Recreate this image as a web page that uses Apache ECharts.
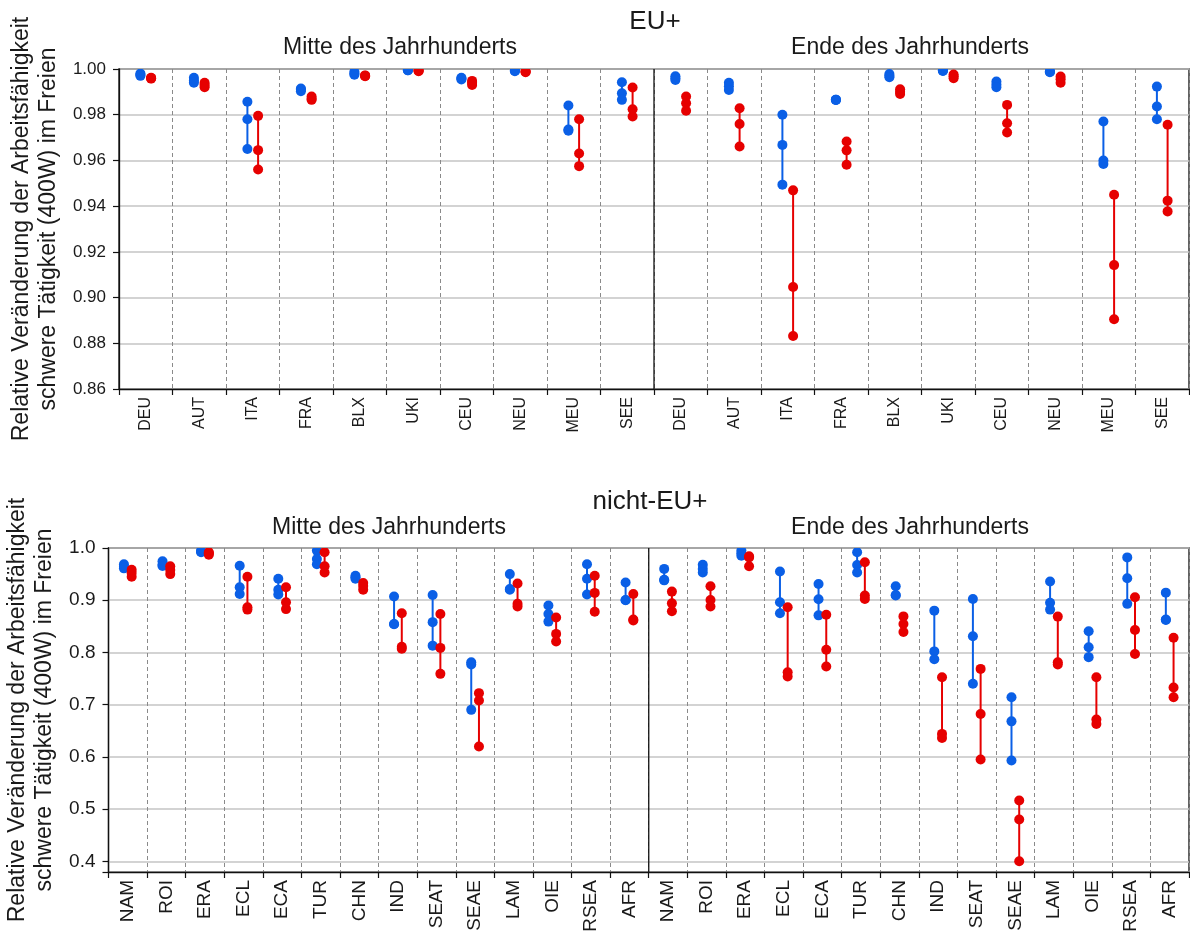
<!DOCTYPE html>
<html>
<head>
<meta charset="utf-8">
<title>Arbeitsfähigkeit – EU+ und nicht-EU+</title>
<script src="https://cdn.jsdelivr.net/npm/echarts@6/dist/echarts.min.js"></script>
<style>
  html, body { margin: 0; padding: 0; background: #fff; }
  #chart { width: 1190px; height: 936px; }
</style>
</head>
<body>
<div id="chart"></div>
<script>
// Regions of the two panels
const euRegions = ['DEU', 'AUT', 'ITA', 'FRA', 'BLX', 'UKI', 'CEU', 'NEU', 'MEU', 'SEE'];
const nonEuRegions = ['NAM', 'ROI', 'ERA', 'ECL', 'ECA', 'TUR', 'CHN', 'IND', 'SEAT', 'SEAE', 'LAM', 'OIE', 'RSEA', 'AFR'];

// EU+ – three model values per region, blue and red scenario
const euMidBlue = [
  [0.998, 0.9975, 0.997], [0.9962, 0.995, 0.994], [0.9857, 0.978, 0.965], [0.9915, 0.991, 0.9903],
  [0.9988, 0.998, 0.9975], [0.9997, 0.9995, 0.9994], [0.9962, 0.9958, 0.9954], [0.9994, 0.9992, 0.999],
  [0.984, 0.9735, 0.973], [0.9942, 0.9894, 0.9865]
];
const euMidRed = [
  [0.9962, 0.996, 0.9958], [0.994, 0.993, 0.992], [0.9795, 0.9645, 0.956], [0.988, 0.987, 0.9865],
  [0.9972, 0.997, 0.9968], [0.9994, 0.9992, 0.999], [0.9948, 0.994, 0.993], [0.999, 0.9988, 0.9986],
  [0.978, 0.963, 0.9575], [0.9919, 0.9824, 0.9792]
];
const euEndBlue = [
  [0.9968, 0.996, 0.9952], [0.994, 0.9925, 0.9908], [0.98, 0.9668, 0.9494], [0.9866, 0.9865, 0.9864],
  [0.9978, 0.997, 0.9964], [0.9995, 0.9993, 0.9991], [0.9945, 0.9932, 0.992], [0.999, 0.9988, 0.9986],
  [0.977, 0.96, 0.9584], [0.9923, 0.9836, 0.978]
];
const euEndRed = [
  [0.988, 0.985, 0.9817], [0.9828, 0.9759, 0.9661], [0.9469, 0.9046, 0.8832], [0.9683, 0.9644, 0.9581],
  [0.9911, 0.99, 0.9891], [0.9976, 0.9968, 0.996], [0.9843, 0.9763, 0.9722], [0.9967, 0.9955, 0.994],
  [0.945, 0.9142, 0.8905], [0.9756, 0.9424, 0.9377]
];

// nicht-EU+
const nonEuMidBlue = [
  [0.969, 0.964, 0.961], [0.9745, 0.968, 0.9656], [0.995, 0.993, 0.992], [0.966, 0.925, 0.912],
  [0.941, 0.92, 0.911], [0.995, 0.979, 0.969], [0.947, 0.944, 0.941], [0.907, 0.8546, 0.854],
  [0.91, 0.858, 0.813], [0.781, 0.777, 0.69], [0.95, 0.9216, 0.92], [0.89, 0.8737, 0.859],
  [0.969, 0.941, 0.911], [0.934, 0.9005, 0.9]
];
const nonEuMidRed = [
  [0.9585, 0.952, 0.945], [0.965, 0.958, 0.95], [0.992, 0.99, 0.987], [0.945, 0.8865, 0.882],
  [0.925, 0.896, 0.883], [0.992, 0.965, 0.953], [0.933, 0.927, 0.92], [0.875, 0.811, 0.807],
  [0.8737, 0.8087, 0.759], [0.722, 0.708, 0.62], [0.932, 0.893, 0.888], [0.867, 0.8355, 0.821],
  [0.947, 0.914, 0.878], [0.912, 0.863, 0.861]
];
const nonEuEndBlue = [
  [0.96, 0.939, 0.938], [0.968, 0.96, 0.953], [0.995, 0.99, 0.985], [0.955, 0.896, 0.875],
  [0.931, 0.902, 0.871], [0.992, 0.9675, 0.953], [0.9267, 0.91, 0.909], [0.88, 0.802, 0.787],
  [0.9024, 0.831, 0.74], [0.714, 0.668, 0.593], [0.936, 0.895, 0.882], [0.8406, 0.81, 0.791],
  [0.982, 0.942, 0.893], [0.9145, 0.863, 0.862]
];
const nonEuEndRed = [
  [0.9165, 0.894, 0.879], [0.9267, 0.9005, 0.888], [0.984, 0.982, 0.965], [0.8865, 0.762, 0.754],
  [0.872, 0.805, 0.773], [0.9726, 0.909, 0.9025], [0.869, 0.8546, 0.839], [0.7526, 0.644, 0.636],
  [0.7685, 0.682, 0.595], [0.5166, 0.48, 0.4], [0.8686, 0.781, 0.777], [0.7526, 0.6716, 0.663],
  [0.9056, 0.843, 0.797], [0.828, 0.733, 0.714]
];

// Axis ranges and tick labels
const euTicks = ['0.86', '0.88', '0.90', '0.92', '0.94', '0.96', '0.98', '1.00'];
const nonEuTicks = ['0.4', '0.5', '0.6', '0.7', '0.8', '0.9', '1.0'];
const euYMin = 0.86, euYMax = 1.0;
const nonEuYMin = 0.3795, nonEuYMax = 1.0;

// Headings
const periodLabels = ['Mitte des Jahrhunderts', 'Ende des Jahrhunderts'];
const panelTitles = ['EU+', 'nicht-EU+'];
const yTitle = 'Relative Veränderung der Arbeitsfähigkeit\nschwere Tätigkeit (400W) im Freien';

const BLUE = '#0a5fe6';
const RED = '#e60000';
const FONT = '"Liberation Sans", Arial, Helvetica, sans-serif';
const TXT = '#1a1a1a';

// One data row per category: [categoryIndex, v1, v2, v3]
function rows(mid, end) {
  return mid.concat(end).map((v, i) => [i, v[0], v[1], v[2]]);
}

// Vertical min–max line with the three model values as dots,
// shifted a tenth of the band left (blue) or right (red)
function rangeRenderer(shift) {
  return function (params, api) {
    const idx = api.value(0);
    const vals = [api.value(1), api.value(2), api.value(3)];
    const band = api.size([1, 0])[0];
    const x = api.coord([idx, vals[0]])[0] + band * shift;
    const ys = vals.map(v => api.coord([idx, v])[1]);
    const color = api.visual('color');
    const children = [{
      type: 'line',
      shape: { x1: x, y1: Math.min.apply(null, ys), x2: x, y2: Math.max.apply(null, ys) },
      style: { stroke: color, lineWidth: 2 }
    }];
    ys.forEach(y => children.push({
      type: 'circle',
      shape: { cx: x, cy: y, r: 5 },
      style: { fill: color }
    }));
    return { type: 'group', children: children };
  };
}

// Solid separator between the two periods (at the boundary before category n)
function separatorRenderer(params, api) {
  const idx = api.value(0);
  const band = api.size([1, 0])[0];
  const cs = params.coordSys;
  const x = api.coord([idx, 0])[0] - band / 2;
  return {
    type: 'line',
    shape: { x1: x, y1: cs.y, x2: x, y2: cs.y + cs.height },
    style: { stroke: '#111', lineWidth: 1.3 }
  };
}

function xAxisFor(gridIndex, regions, fontSize) {
  return {
    type: 'category',
    gridIndex: gridIndex,
    data: regions.concat(regions),
    boundaryGap: true,
    axisLine: { lineStyle: { color: '#111', width: 1.3 } },
    axisTick: { show: true, interval: 0, length: 6, lineStyle: { color: '#111', width: 1.2 } },
    axisLabel: { interval: 0, rotate: 90, margin: 8, fontSize: fontSize, color: TXT, fontFamily: FONT },
    splitLine: { show: true, interval: 0, lineStyle: { color: '#8a8a8a', type: [4, 3], width: 1 } }
  };
}

function yAxisFor(gridIndex, min, max, ticks, fontSize, nameGap) {
  return {
    type: 'value',
    gridIndex: gridIndex,
    min: min,
    max: max,
    splitNumber: ticks.length - 1,
    axisLine: { show: true, lineStyle: { color: '#111', width: 1.3 } },
    axisTick: { show: true, length: 6, lineStyle: { color: '#111', width: 1.2 } },
    axisLabel: {
      margin: 13, fontSize: fontSize, color: TXT, fontFamily: FONT,
      formatter: function (v) {
        const dec = ticks[0].split('.')[1].length;
        const s = v.toFixed(dec);
        return ticks.indexOf(s) >= 0 && Math.abs(parseFloat(s) - v) < 1e-6 ? s : '';
      }
    },
    splitLine: { show: true, lineStyle: { color: '#c4c4c4', width: 1.5 } },
    name: yTitle,
    nameLocation: 'middle',
    nameRotate: 90,
    nameGap: nameGap,
    nameTextStyle: { fontSize: 23, lineHeight: 27, color: TXT, fontFamily: FONT, align: 'center' }
  };
}

const chart = echarts.init(document.getElementById('chart'), null, { renderer: 'canvas' });

const headings = [
  { text: panelTitles[0], x: 655, y: 22, size: 26 },
  { text: periodLabels[0], x: 400, y: 48, size: 23 },
  { text: periodLabels[1], x: 910, y: 48, size: 23 },
  { text: panelTitles[1], x: 650, y: 502, size: 26 },
  { text: periodLabels[0], x: 389, y: 528, size: 23 },
  { text: periodLabels[1], x: 910, y: 528, size: 23 }
];

chart.setOption({
  animation: false,
  backgroundColor: '#ffffff',
  grid: [
    { left: 119, right: 1, top: 69, height: 320, show: true, borderColor: '#111', borderWidth: 1.3,
      containLabel: false, outerBoundsMode: 'none' },
    { left: 108.5, right: 1, top: 548, height: 324, show: true, borderColor: '#111', borderWidth: 1.3,
      containLabel: false, outerBoundsMode: 'none' }
  ],
  xAxis: [xAxisFor(0, euRegions, 16), xAxisFor(1, nonEuRegions, 19)],
  yAxis: [
    yAxisFor(0, euYMin, euYMax, euTicks, 17, 55),
    yAxisFor(1, nonEuYMin, nonEuYMax, nonEuTicks, 19, 45)
  ],
  graphic: headings.map(h => ({
    type: 'text',
    x: h.x, y: h.y,
    style: {
      text: h.text, fill: TXT, fontSize: h.size, fontFamily: FONT,
      textAlign: 'center', textVerticalAlign: 'middle'
    }
  })),
  series: [
    { type: 'custom', xAxisIndex: 0, yAxisIndex: 0, clip: true, renderItem: separatorRenderer,
      data: [[euRegions.length]], encode: { x: 0 }, z: 3 },
    { type: 'custom', xAxisIndex: 1, yAxisIndex: 1, clip: true, renderItem: separatorRenderer,
      data: [[nonEuRegions.length]], encode: { x: 0 }, z: 3 },
    { type: 'custom', name: 'blau', xAxisIndex: 0, yAxisIndex: 0, clip: true, color: BLUE,
      renderItem: rangeRenderer(-0.1), data: rows(euMidBlue, euEndBlue), encode: { x: 0, y: [1, 2, 3] }, z: 4 },
    { type: 'custom', name: 'rot', xAxisIndex: 0, yAxisIndex: 0, clip: true, color: RED,
      renderItem: rangeRenderer(0.1), data: rows(euMidRed, euEndRed), encode: { x: 0, y: [1, 2, 3] }, z: 5 },
    { type: 'custom', name: 'blau', xAxisIndex: 1, yAxisIndex: 1, clip: true, color: BLUE,
      renderItem: rangeRenderer(-0.1), data: rows(nonEuMidBlue, nonEuEndBlue), encode: { x: 0, y: [1, 2, 3] }, z: 4 },
    { type: 'custom', name: 'rot', xAxisIndex: 1, yAxisIndex: 1, clip: true, color: RED,
      renderItem: rangeRenderer(0.1), data: rows(nonEuMidRed, nonEuEndRed), encode: { x: 0, y: [1, 2, 3] }, z: 5 }
  ]
});
</script>
</body>
</html>
